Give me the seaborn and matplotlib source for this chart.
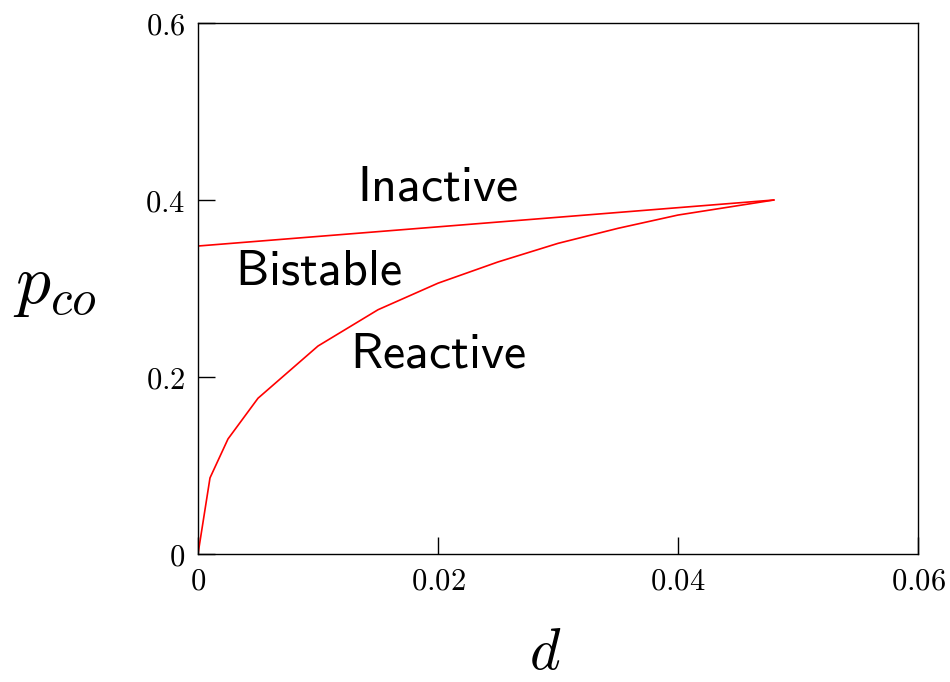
import matplotlib
matplotlib.use("Agg")
import matplotlib.pyplot as plt
import seaborn as sns
import pandas as pd

# data
upper_d = [0.0, 0.048]
upper_p = [0.348, 0.400]
lower_d = [0.0, 0.001, 0.0025, 0.005, 0.01, 0.015, 0.02, 0.025, 0.03, 0.035, 0.04, 0.048]
lower_p = [0.0, 0.086, 0.130, 0.176, 0.235, 0.276, 0.306, 0.330, 0.351, 0.368, 0.383, 0.400]
x_ticks = [0, 0.02, 0.04, 0.06]
x_tick_labels = ["0", "0.02", "0.04", "0.06"]
y_ticks = [0, 0.2, 0.4, 0.6]
y_tick_labels = ["0", "0.2", "0.4", "0.6"]
regions = ["Inactive", "Bistable", "Reactive"]
region_d = [0.0200, 0.0100, 0.0200]
region_p = [0.415, 0.320, 0.227]

sns.set_theme(style="white")
plt.rcParams["mathtext.fontset"] = "cm"
plt.rcParams["text.color"] = "black"
plt.rcParams["xtick.color"] = "black"
plt.rcParams["ytick.color"] = "black"

fig = plt.figure(figsize=(9.5, 6.82), dpi=100)
ax = fig.add_axes([198/950, 1-554/682, 720/950, 531/682])

df_up = pd.DataFrame({"d": upper_d, "p": upper_p})
df_lo = pd.DataFrame({"d": lower_d, "p": lower_p})
sns.lineplot(data=df_up, x="d", y="p", ax=ax, color="red", lw=1.2, estimator=None, sort=False)
sns.lineplot(data=df_lo, x="d", y="p", ax=ax, color="red", lw=1.2, estimator=None, sort=False)

ax.set_xlim(0, 0.06)
ax.set_ylim(0, 0.6)
ax.set_xticks(x_ticks)
ax.set_xticklabels([f"${t}$" for t in x_tick_labels], fontsize=22)
ax.set_yticks(y_ticks)
ax.set_yticklabels([f"${t}$" for t in y_tick_labels], fontsize=22)
ax.tick_params(direction="in", length=12, width=1, colors="black", bottom=True, left=True, top=False, right=False, pad=9)
for s in ax.spines.values():
    s.set_color("black")
    s.set_linewidth(1.0)

ax.set_xlabel("")
ax.set_ylabel("")
fig.text(545/950, 1-652/682, r"$d$", fontsize=42, ha="center", va="center", color="black")
fig.text(55/950, 1-285/682, r"$p_{co}$", fontsize=50, ha="center", va="center", color="black")

for name, dx, py in zip(regions, region_d, region_p):
    ax.text(dx, py, r"$\mathsf{" + name + "}$", fontsize=36, ha="center", va="center", color="black")

fig.savefig("out.png", dpi=100)
